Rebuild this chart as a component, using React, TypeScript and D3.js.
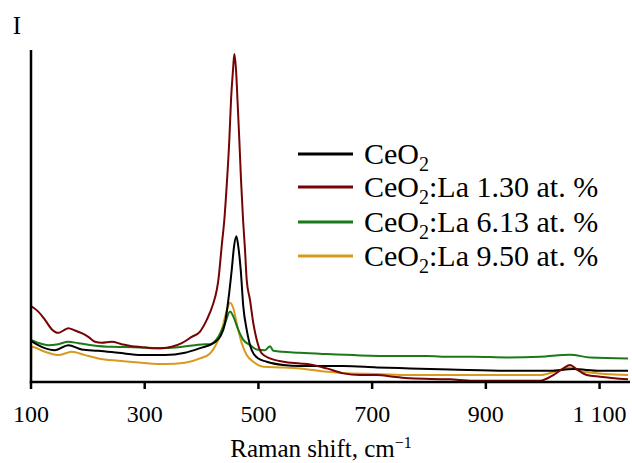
import React from "react";
import * as d3 from "d3";

const W = 632;
const H = 463;

const xTicks = [100, 300, 500, 700, 900, 1100];
const xTickLabels = ["100", "300", "500", "700", "900", "1 100"];

const seriesNames = ["CeO2", "CeO2:La 1.30 at. %", "CeO2:La 6.13 at. %", "CeO2:La 9.50 at. %"];
const seriesColors = ["#000000", "#760404", "#1a7a1a", "#d89a1c"];

// [Raman shift (cm-1), intensity (a.u.)]
const ceo2: [number, number][] = [
  [100, 12.4], [118.8, 10.6], [142.2, 9.6], [165.6, 11.1], [189.2, 9.8], [218.4, 9.4],
  [253.6, 8.8], [294.7, 8.1], [335.7, 8.1], [370.9, 8.8], [397.3, 10.2], [420.7, 11.7],
  [432.5, 13.6], [441.2, 17.7], [447.1, 24.7], [453.0, 33.7], [457.1, 40.8], [461.2, 43.9],
  [464.6, 40.8], [468.9, 33.7], [473.4, 22.7], [479.4, 15.7], [488.2, 9.6], [499.8, 7.1],
  [514.6, 6.1], [543.8, 5.1], [573.2, 4.8], [620.1, 4.8], [649.3, 4.8], [708.1, 4.4],
  [766.7, 4.1], [837.0, 3.8], [936.8, 3.4], [1012.9, 3.4], [1053.9, 3.9], [1100.9, 3.4],
  [1150, 3.4],
];

const la130: [number, number][] = [
  [100, 22.9], [112.8, 21.2], [124.6, 18.7], [136.4, 15.9], [148.0, 14.8], [156.8, 15.5],
  [165.6, 16.2], [177.4, 15.5], [189.2, 14.7], [200.8, 13.6], [212.6, 12.1], [224.4, 11.8],
  [242.0, 12.1], [259.5, 11.4], [277.1, 10.8], [294.7, 10.5], [312.3, 10.2], [329.9, 10.2],
  [347.5, 10.6], [365.1, 11.7], [382.7, 13.6], [397.3, 15.2], [409.1, 18.7], [420.7, 23.7],
  [426.7, 27.7], [429.5, 30.7], [436.0, 42.0], [440.0, 48.8], [444.8, 60.8], [448.8, 72.9],
  [451.8, 84.9], [455.3, 94.0], [457.6, 98.8], [460.6, 94.0], [463.2, 84.9], [466.4, 72.9],
  [469.4, 60.8], [473.0, 48.8], [476.4, 39.8], [479.4, 30.7], [485.2, 24.7], [491.0, 17.7],
  [497.0, 12.7], [505.8, 8.6], [520.4, 7.1], [543.8, 6.1], [573.2, 5.6], [590.8, 5.3],
  [620.1, 4.1], [649.3, 2.6], [678.7, 2.1], [708.1, 2.1], [737.3, 1.6], [766.7, 1.1],
  [837.0, 0.8], [878.0, 0.4], [995.3, 0.4], [1018.7, 2.1], [1036.3, 4.1], [1048.1, 5.1],
  [1059.9, 3.8], [1077.5, 2.1], [1100.9, 1.6], [1150, 0.8],
];

const la613: [number, number][] = [
  [100, 12.7], [112.8, 11.8], [130.4, 11.1], [148.0, 11.4], [165.6, 12.1], [183.2, 11.7],
  [206.8, 11.1], [242.0, 10.6], [282.9, 10.5], [323.9, 10.2], [359.1, 10.5], [388.5, 11.1],
  [406.1, 11.4], [414.9, 11.4], [429.5, 13.6], [441.2, 17.7], [450.0, 21.2], [455.9, 19.7],
  [464.6, 15.7], [473.4, 12.7], [485.2, 11.1], [497.0, 9.8], [511.6, 9.6], [520.4, 10.8],
  [526.2, 9.4], [573.2, 8.8], [620.1, 8.4], [678.7, 8.0], [737.3, 7.8], [796.0, 7.8],
  [837.0, 7.6], [878.0, 7.6], [936.8, 7.4], [995.3, 7.6], [1048.1, 8.2], [1083.3, 7.4],
  [1150, 7.1],
];

const la950: [number, number][] = [
  [100, 0], [100.5, 10.6], [124.6, 9.1], [148.0, 8.1], [171.6, 9.1], [195.0, 8.1],
  [218.4, 7.1], [253.6, 6.4], [294.7, 5.8], [335.7, 5.4], [370.9, 5.8], [397.3, 7.1],
  [414.9, 8.6], [426.7, 11.7], [435.4, 15.7], [443.0, 20.7], [450.0, 23.9], [455.9, 22.2],
  [461.8, 17.7], [470.6, 11.7], [479.4, 8.1], [491.0, 6.1], [508.6, 4.6], [543.8, 4.4],
  [573.2, 4.1], [620.1, 3.1], [655.3, 2.6], [708.1, 2.4], [766.7, 2.1], [837.0, 2.1],
  [995.3, 2.1], [1030.5, 3.6], [1048.1, 4.4], [1071.5, 3.1], [1150, 2.1],
];

const allSeries = [ceo2, la130, la613, la950];
const drawOrder = [3, 2, 0, 1];

const FONT = "'Liberation Serif', 'Times New Roman', serif";

export default function App() {
  const x = d3.scaleLinear().domain([100, 1150]).range([31, 628]);
  const y = d3.scaleLinear().domain([0, 100]).range([382, 50]);
  const line = d3
    .line<[number, number]>()
    .x((d) => x(d[0]))
    .y((d) => y(d[1]))
    .curve(d3.curveMonotoneX);

  const legendX = 298;
  const legendRows = [154, 187, 222, 256];

  return (
    <svg
      width={W}
      height={H}
      style={{ position: "absolute", left: 0, top: 0, background: "#fff" }}
      fontFamily={FONT}
    >
      <g>
        {drawOrder.map((i) => (
          <path
            key={i}
            d={line(allSeries[i]) || ""}
            fill="none"
            stroke={seriesColors[i]}
            strokeWidth={2}
            strokeLinejoin="round"
          />
        ))}
      </g>
      {/* axes */}
      <line x1={x(100)} x2={x(100)} y1={y(100)} y2={y(0) + 1} stroke="#000" strokeWidth={2.5} />
      <line x1={x(100) - 1.2} x2={630} y1={y(0)} y2={y(0)} stroke="#000" strokeWidth={2.5} />
      {xTicks.map((t, i) => (
        <g key={t}>
          <line x1={x(t)} x2={x(t)} y1={y(0)} y2={y(0) + 7} stroke="#000" strokeWidth={2.5} />
          <text x={x(t)} y={422} textAnchor="middle" fontSize={24} fill="#000">
            {xTickLabels[i]}
          </text>
        </g>
      ))}
      <text x={321} y={457} textAnchor="middle" fontSize={25} fill="#000">
        Raman shift, cm<tspan dy={-9} fontSize={16}>−1</tspan>
      </text>
      <text x={17} y={34} textAnchor="middle" fontSize={25} fill="#000">
        I
      </text>
      {/* legend */}
      {seriesNames.map((name, i) => {
        const ry = legendRows[i];
        const parts = name.split("O2");
        return (
          <g key={name}>
            <line x1={legendX} x2={legendX + 55} y1={ry} y2={ry} stroke={seriesColors[i]} strokeWidth={3} />
            <text x={legendX + 66} y={ry + 10} fontSize={30} fill="#000">
              {parts[0]}O
              <tspan dy={7} fontSize={20}>2</tspan>
              <tspan dy={-7}>{parts[1]}</tspan>
            </text>
          </g>
        );
      })}
    </svg>
  );
}
